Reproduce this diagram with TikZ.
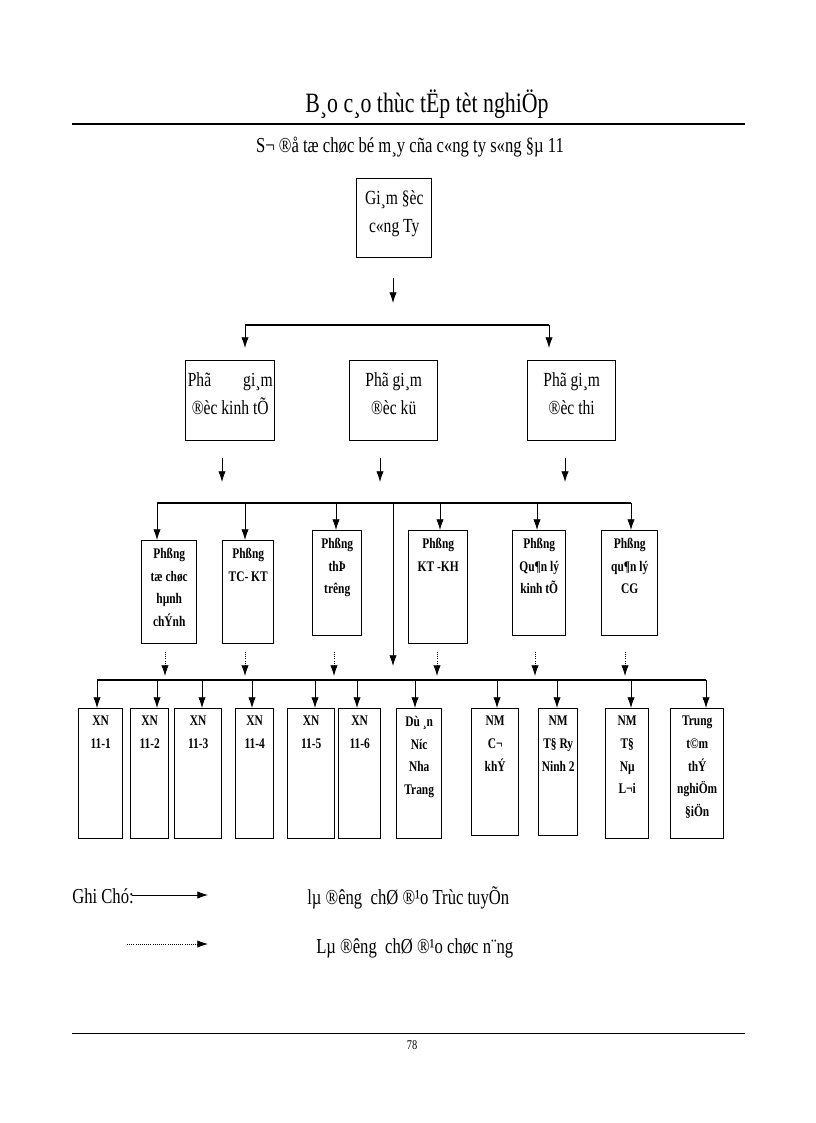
\documentclass[tikz,border=0pt]{standalone}
\usepackage{fontspec}
\setmainfont{Liberation Serif}
\newfontfamily\cond[FakeStretch=0.78]{Liberation Serif}
\usetikzlibrary{arrows.meta}
\tikzset{
 box/.style={draw,line width=1.1pt,inner sep=0pt},
 arr/.style={-{Latex[length=8pt,width=5.5pt]},line width=0.6pt},
 darr/.style={-{Latex[length=8pt,width=5.5pt]},line width=0.6pt,densely dotted},
 lbl/.style={align=center,inner sep=0pt,font=\cond\fontsize{15}{21}\selectfont},
 blbl/.style={align=center,inner sep=0pt,font=\cond\bfseries\fontsize{11}{17}\selectfont},
}
\begin{document}
\begin{tikzpicture}[x=0.75pt,y=-0.75pt]
\useasboundingbox (0,0) rectangle (816,1123);
\node[font=\cond\fontsize{21}{22}\selectfont] (title) at (427,104) {B¸o c¸o thùc tËp tèt nghiÖp};
\draw[line width=1.6pt] (72,124) -- (745,124);
\node[font=\cond\fontsize{16}{18}\selectfont] (sub) at (410,147) {S¬ ®å tæ chøc bé m¸y cña c«ng ty s«ng §µ 11};
% top
\node[box,anchor=north west,minimum width={75*0.75pt},minimum height={79*0.75pt}] (gd) at (356,178) {};
\node[lbl,anchor=north] (gdt) at ([yshift=-9pt]gd.north) {Gi¸m §èc\\c«ng Ty};
\coordinate (a0) at (393,278); \coordinate (a1) at (393,303);
\draw[arr] (a0) -- (a1);
% deputies
\node[box,anchor=north west,minimum width={89*0.75pt},minimum height={80*0.75pt}] (p1) at (185,360) {};
\node[box,anchor=north west,minimum width={88*0.75pt},minimum height={80*0.75pt}] (p2) at (349,360) {};
\node[box,anchor=north west,minimum width={88*0.75pt},minimum height={80*0.75pt}] (p3) at (527,360) {};
\node[lbl,anchor=north] (p1t) at ([yshift=-9pt]p1.north) {Phã\hspace{1.6em}gi¸m\\®èc kinh tÕ};
\node[lbl,anchor=north] (p2t) at ([yshift=-9pt]p2.north) {Phã gi¸m\\®èc kü};
\node[lbl,anchor=north] (p3t) at ([yshift=-9pt]p3.north) {Phã gi¸m\\®èc thi};
\coordinate (h1) at (245,325); \coordinate (h2) at (549,325);
\draw[line width=0.8pt] (h1) -- (h2);
\draw[arr] (h1) -- (245,348);
\draw[arr] (h2) -- (549,348);
\draw[arr] (222,458) -- (222,482);
\draw[arr] (380,458) -- (380,482);
\draw[arr] (565,458) -- (565,482);
% departments
\node[box,anchor=north west,minimum width={55*0.75pt},minimum height={103*0.75pt}] (r1) at (141,540) {};
\node[box,anchor=north west,minimum width={51*0.75pt},minimum height={103*0.75pt}] (r2) at (222,540) {};
\node[box,anchor=north west,minimum width={49*0.75pt},minimum height={105*0.75pt}] (r3) at (312,530) {};
\node[box,anchor=north west,minimum width={59*0.75pt},minimum height={113*0.75pt}] (r4) at (408,530) {};
\node[box,anchor=north west,minimum width={53*0.75pt},minimum height={105*0.75pt}] (r5) at (512,530) {};
\node[box,anchor=north west,minimum width={56*0.75pt},minimum height={105*0.75pt}] (r6) at (601,530) {};
\node[blbl,anchor=north] (r1t) at ([yshift=-6pt]r1.north) {Phßng\\tæ chøc\\hµnh\\chÝnh};
\node[blbl,anchor=north] (r2t) at ([yshift=-6pt]r2.north) {Phßng\\TC- KT};
\node[blbl,anchor=north] (r3t) at ([yshift=-6pt]r3.north) {Phßng\\thÞ\\trêng};
\node[blbl,anchor=north] (r4t) at ([yshift=-6pt]r4.north) {Phßng\\KT -KH};
\node[blbl,anchor=north] (r5t) at ([yshift=-6pt]r5.north) {Phßng\\Qu¶n lý\\kinh tÕ};
\node[blbl,anchor=north] (r6t) at ([yshift=-6pt]r6.north) {Phßng\\qu¶n lý\\CG};
\draw[line width=0.8pt] (157,503) -- (631,503);
\foreach \x/\n in {157/r1,245/r2,336/r3,440/r4,537/r5,631/r6}{\draw[arr] (\x,503) -- (\x,0 |- \n.north);}
\draw[arr] (393,503) -- (393,666);
\foreach \x/\n in {165/r1,245/r2,334/r3,437/r4,535/r5,625/r6}{\draw[darr] (\x,652) -- (\x,676);}
% units
\draw[line width=0.8pt] (97,680) -- (706,680);
\foreach \n/\a/\b/\c in {u1/78/122/838,u2/130/168/838,u3/174/221/838,u4/235/273/838,u5/287/334/838,u6/338/380/838,u7/396/441/838,u8/471/518/835,u9/538/577/835,u10/605/648/838,u11/670/723/838}{
 \node[box,anchor=north west,minimum width={(\b-\a)*0.75pt},minimum height={(\c-708)*0.75pt}] (\n) at (\a,708) {};}
\foreach \x/\n in {97/u1,157/u2,202/u3,252/u4,315/u5,357/u6,415/u7,497/u8,557/u9,631/u10,706/u11}{\draw[arr] (\x,680) -- (\x,0 |- \n.north);}
\node[blbl,anchor=north] (u1t) at ([yshift=-6pt]u1.north) {XN\\11-1};
\node[blbl,anchor=north] (u2t) at ([yshift=-6pt]u2.north) {XN\\11-2};
\node[blbl,anchor=north] (u3t) at ([yshift=-6pt]u3.north) {XN\\11-3};
\node[blbl,anchor=north] (u4t) at ([yshift=-6pt]u4.north) {XN\\11-4};
\node[blbl,anchor=north] (u5t) at ([yshift=-6pt]u5.north) {XN\\11-5};
\node[blbl,anchor=north] (u6t) at ([yshift=-6pt]u6.north) {XN\\11-6};
\node[blbl,anchor=north] (u7t) at ([yshift=-6pt]u7.north) {Dù ¸n\\Níc\\Nha\\Trang};
\node[blbl,anchor=north] (u8t) at ([yshift=-6pt]u8.north) {NM\\C¬\\khÝ};
\node[blbl,anchor=north] (u9t) at ([yshift=-6pt]u9.north) {NM\\T§ Ry\\Ninh 2};
\node[blbl,anchor=north] (u10t) at ([yshift=-6pt]u10.north) {NM\\T§\\Nµ\\L¬i};
\node[blbl,anchor=north] (u11t) at ([yshift=-6pt]u11.north) {Trung\\t©m\\thÝ\\nghiÖm\\§iÖn};
% legend
\node[font=\cond\fontsize{16}{18}\selectfont,anchor=west,inner sep=0pt] (gc) at (72,896) {Ghi Chó:};
\coordinate (l1a) at (132,895); \coordinate (l1b) at (208,895);
\draw[arr] (l1a) -- (l1b);
\node[font=\cond\fontsize{16}{18}\selectfont,anchor=west,inner sep=0pt] (lt1) at (307,898) {lµ ®êng\ \ chØ ®¹o Trùc tuyÕn};
\coordinate (l2a) at (127,944); \coordinate (l2b) at (208,944);
\draw[darr] (l2a) -- (l2b);
\node[font=\cond\fontsize{16}{18}\selectfont,anchor=west,inner sep=0pt] (lt2) at (316,948) {Lµ ®êng\ \ chØ ®¹o chøc n¨ng};
% footer
\draw[line width=0.6pt] (72,1033) -- (745,1033);
\node[font=\cond\fontsize{10}{10}\selectfont] (pg) at (412,1045) {78};
\end{tikzpicture}
\end{document}
